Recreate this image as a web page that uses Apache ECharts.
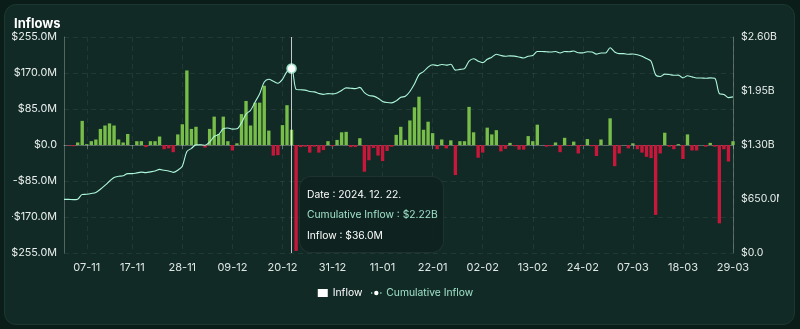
<!DOCTYPE html>
<html>
<head>
<meta charset="utf-8">
<script src="https://cdn.jsdelivr.net/npm/echarts@6/dist/echarts.min.js"></script>
<style>
  html, body { margin: 0; padding: 0; background: #0b1d19; width: 800px; height: 329px; overflow: hidden; }
  #card { position: absolute; left: 4px; top: 4px; width: 789px; height: 319px; background: #112a25; border: 1px solid #1c3731; border-radius: 12px; }
  #chart { position: absolute; left: 12px; top: 0; width: 767px; height: 329px; }
</style>
</head>
<body>
<div id="card"></div>
<div id="chart"></div>
<script>
// First day of the series; one category per day.
const startDate = [2024, 10, 2];
const dayCount = 148;

// Dates that carry an x-axis label (DD-MM)
const tickLabels = ['07-11','17-11','28-11','09-12','20-12','31-12','11-01','22-01','02-02','13-02','24-02','07-03','18-03','29-03'];

// Daily net inflow, $M
const inflow = [
  0, -1, -3, 6, 57, 2, 9, 13, 38, 46,
  51, 46, 13, 6, 26, 0, 9, 9, -5, 9,
  9, 20, -10, -8, -17, 25, 49, 176, 38, 43,
  1, -6, 38, 67, 26, 67, 9, -13, 4, 73,
  104, 46, 100, 100, 140, 34, -25, -24, 47, 94,
  36, -250, -5, -4, -18, -4, -18, -12, 9, -3,
  12, 30, 31, -5, -5, 16, -63, -36, -7, -25,
  -38, -14, -4, 24, 43, 12, 58, 89, 114, 36,
  55, 28, -10, 13, -8, 11, -71, 9, 9, 90,
  30, -30, -18, 41, 25, 35, -15, -9, 5, -3,
  -11, -11, 21, 9, 48, 0, -4, -3, 6, -17,
  17, -2, 8, -20, -2, 14, -3, -26, 13, 0,
  63, -50, -20, 0, -8, 4, -10, -18, -28, -31,
  -165, -20, 29, -4, -10, 2, -33, 25, -13, -13,
  0, -4, 5, -4, -185, -10, -39, 9
];

// Cumulative inflow, $M
const cumulative = [
  646, 645, 642, 648, 705, 707, 716, 729, 767, 813,
  864, 910, 923, 929, 955, 955, 964, 973, 968, 977,
  986, 1006, 996, 988, 971, 996, 1045, 1221, 1259, 1302,
  1303, 1297, 1335, 1402, 1428, 1495, 1504, 1491, 1495, 1568,
  1672, 1718, 1818, 1918, 2058, 2092, 2067, 2043, 2090, 2184,
  2220, 1970, 1965, 1961, 1943, 1939, 1921, 1909, 1918, 1915,
  1927, 1957, 1988, 1983, 1978, 1994, 1931, 1895, 1888, 1863,
  1825, 1811, 1807, 1831, 1874, 1886, 1944, 2033, 2147, 2183,
  2238, 2266, 2256, 2269, 2261, 2272, 2201, 2210, 2219, 2309,
  2339, 2309, 2291, 2332, 2357, 2392, 2377, 2368, 2373, 2370,
  2359, 2348, 2369, 2378, 2426, 2426, 2422, 2419, 2425, 2408,
  2425, 2423, 2431, 2411, 2409, 2423, 2420, 2394, 2407, 2407,
  2470, 2420, 2400, 2400, 2392, 2396, 2386, 2368, 2340, 2309,
  2144, 2124, 2153, 2149, 2139, 2141, 2108, 2133, 2120, 2107,
  2107, 2103, 2108, 2104, 1919, 1909, 1870, 1879
];

const focusIndex = 50;

const pad = n => String(n).padStart(2, '0');
const dates = [];
for (let i = 0; i < dayCount; i++) {
  const d = new Date(Date.UTC(startDate[0], startDate[1], startDate[2]) + i * 86400000);
  dates.push({ y: d.getUTCFullYear(), m: d.getUTCMonth() + 1, d: d.getUTCDate() });
}
const categories = dates.map(o => pad(o.d) + '-' + pad(o.m));
const showTick = (idx, val) => tickLabels.indexOf(val) !== -1;

const GREEN = '#78bd49';
const RED = '#c8173a';
const MINT = '#9fe0c8';
const FONT = 'Inter';

const fmtLeft = v => v === 0 ? '$0.0' : (v < 0 ? '-' : '') + '$' + Math.abs(v).toFixed(1) + 'M';
const fmtRight = v => v === 0 ? '$0.0' : (v >= 1000 ? '$' + (v / 1000).toFixed(2) + 'B' : '$' + v.toFixed(1) + 'M');

const chart = echarts.init(document.getElementById('chart'), null, { renderer: 'canvas' });
chart.setOption({
  animation: false,
  textStyle: { fontFamily: FONT },
  title: {
    text: 'Inflows', left: 2, top: 18, padding: 0,
    textStyle: { color: '#ffffff', fontSize: 13, fontWeight: 'bold', fontFamily: FONT }
  },
  legend: {
    top: 283, left: 'center',
    itemWidth: 10, itemHeight: 8, itemGap: 8,
    textStyle: { fontSize: 10.3, fontFamily: FONT },
    data: [
      { name: 'Inflow', icon: 'rect', itemStyle: { color: '#ffffff' }, textStyle: { color: '#ffffff' } },
      { name: 'Cumulative Inflow', itemStyle: { color: '#112a25', borderColor: MINT, borderWidth: 1 }, textStyle: { color: MINT } }
    ]
  },
  grid: { left: 52, right: 46, top: 37, bottom: 76, outerBoundsMode: 'none', containLabel: false },
  tooltip: {
    trigger: 'axis',
    triggerOn: 'none',
    alwaysShowContent: true,
    position: () => [287, 176],
    backgroundColor: 'rgba(14,35,31,0.94)',
    borderColor: 'rgba(255,255,255,0.07)',
    borderWidth: 1,
    borderRadius: 12,
    padding: [7, 7],
    extraCssText: 'box-shadow:none;width:129px;',
    axisPointer: { type: 'line', lineStyle: { color: 'rgba(255,255,255,0.75)', width: 1, type: 'solid' } },
    formatter: params => {
      const idx = params[0].dataIndex;
      const o = dates[idx];
      const row = 'font-family:Inter;font-size:10.3px;line-height:20px;white-space:nowrap;';
      return '<div style="' + row + 'color:#ffffff">Date : ' + o.y + '. ' + pad(o.m) + '. ' + pad(o.d) + '.</div>' +
             '<div style="' + row + 'color:' + MINT + '">Cumulative Inflow : $' + (cumulative[idx] / 1000).toFixed(2) + 'B</div>' +
             '<div style="' + row + 'color:#ffffff;margin-top:1px">Inflow : $' + inflow[idx].toFixed(1) + 'M</div>';
    }
  },
  xAxis: {
    type: 'category',
    data: categories,
    boundaryGap: false,
    axisLine: { lineStyle: { color: 'rgba(255,255,255,0.28)' } },
    axisTick: { interval: showTick, length: 4, lineStyle: { color: 'rgba(255,255,255,0.28)' } },
    axisLabel: { interval: showTick, color: '#dfe7e4', fontSize: 11, margin: 9, fontFamily: FONT },
    splitLine: { show: true, interval: showTick, lineStyle: { color: 'rgba(255,255,255,0.07)', type: [5, 4] } }
  },
  yAxis: [
    {
      type: 'value', min: -255, max: 255, interval: 85,
      axisLine: { show: true, lineStyle: { color: 'rgba(255,255,255,0.28)' } },
      axisTick: { show: false },
      axisLabel: { color: '#e9efed', fontSize: 10.8, margin: 7, formatter: fmtLeft, fontFamily: FONT },
      splitLine: { lineStyle: { color: 'rgba(255,255,255,0.07)', type: [5, 4] } }
    },
    {
      type: 'value', min: 0, max: 2600, interval: 650,
      axisLine: { show: true, lineStyle: { color: 'rgba(255,255,255,0.28)' } },
      axisTick: { show: false },
      axisLabel: { color: '#e9efed', fontSize: 10.5, margin: 8, formatter: fmtRight, fontFamily: FONT },
      splitLine: { show: false }
    }
  ],
  series: [
    {
      name: 'Inflow',
      type: 'bar',
      yAxisIndex: 0,
      barCategoryGap: '26%',
      itemStyle: { color: '#ffffff' },
      data: inflow.map(v => ({ value: v, itemStyle: { color: v >= 0 ? GREEN : RED } })),
      emphasis: { disabled: true }
    },
    {
      name: 'Cumulative Inflow',
      type: 'line',
      yAxisIndex: 1,
      data: cumulative,
      smooth: 0.3,
      showSymbol: false,
      symbol: 'emptyCircle',
      symbolSize: 9,
      lineStyle: { color: MINT, width: 1.1 },
      itemStyle: { color: MINT, borderColor: MINT },
      emphasis: { scale: false, itemStyle: { color: '#ffffff', borderColor: MINT, borderWidth: 1.5 } }
    }
  ]
});
chart.dispatchAction({ type: 'showTip', seriesIndex: 1, dataIndex: focusIndex });
</script>
</body>
</html>
